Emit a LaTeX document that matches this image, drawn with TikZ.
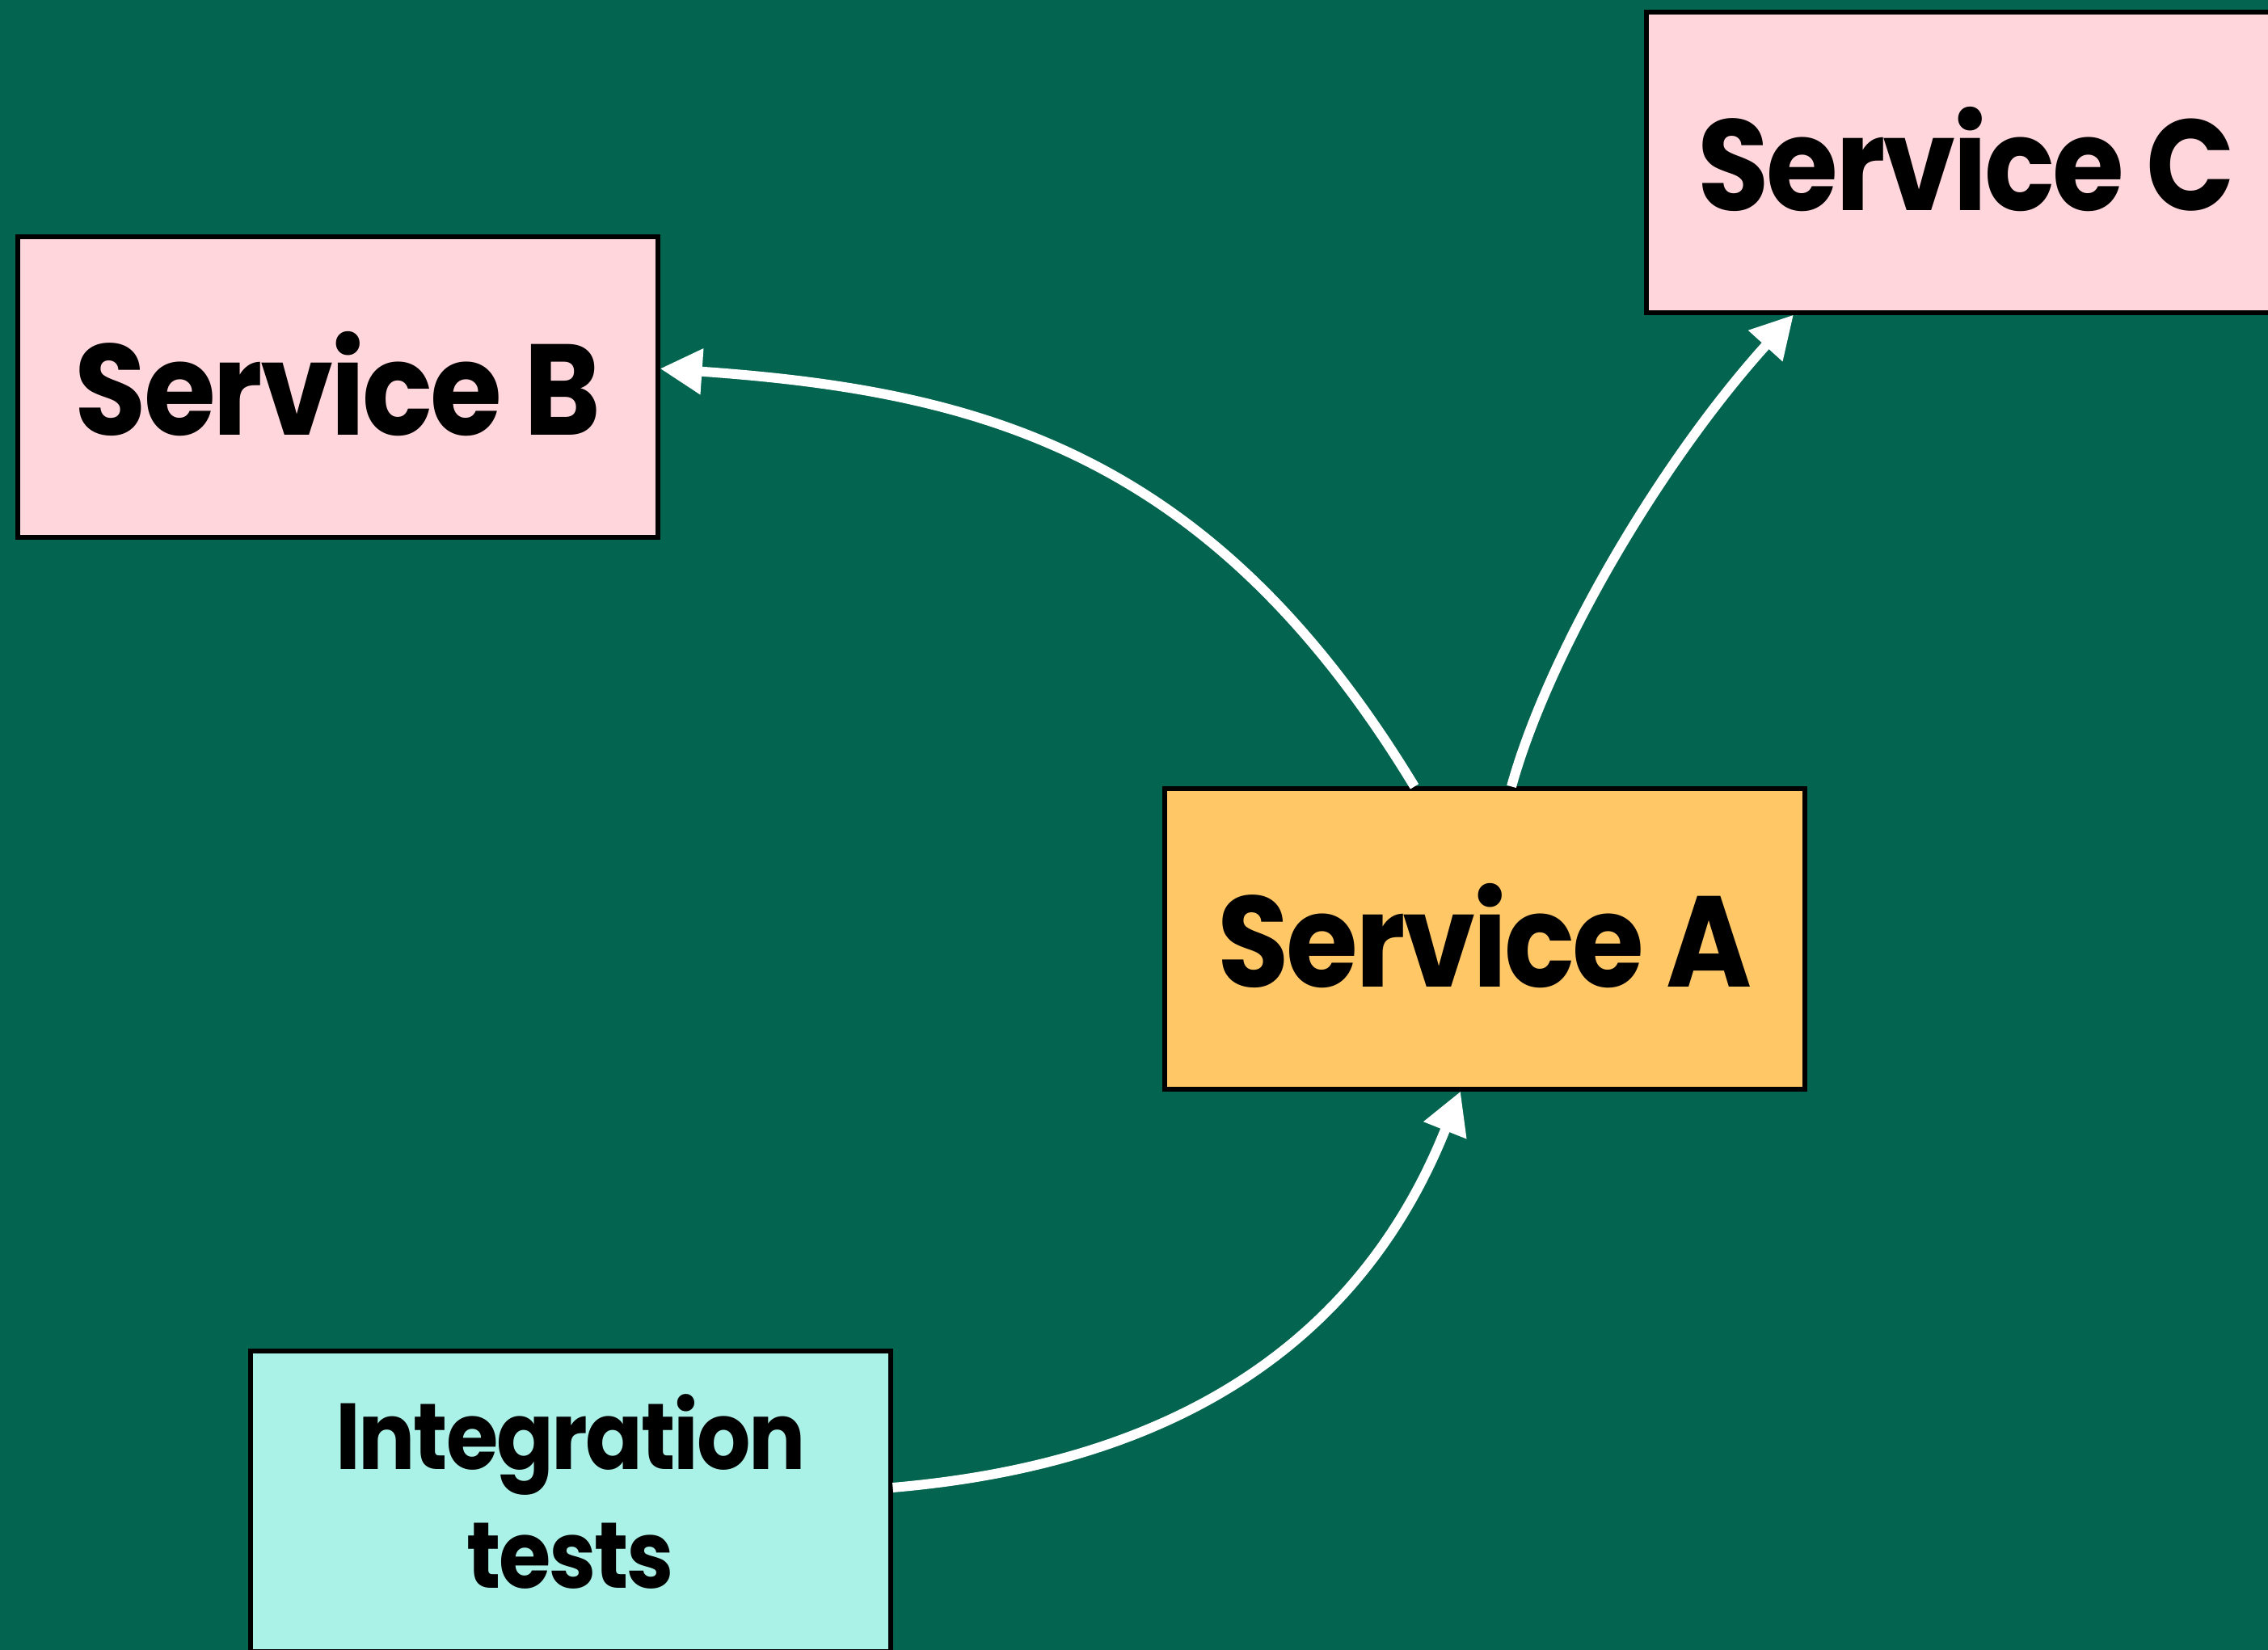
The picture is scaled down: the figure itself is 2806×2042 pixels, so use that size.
\documentclass[tikz,border=0pt]{standalone}
\usepackage{fontspec}
\setmainfont{Poppins}[FakeStretch=0.9, LetterSpace=-2]
\usetikzlibrary{arrows.meta}
\definecolor{bg}{HTML}{03644F}
\definecolor{pinkbox}{HTML}{FFD6DB}
\definecolor{orangebox}{HTML}{FFC766}
\definecolor{mintbox}{HTML}{AAF2E7}
\tikzset{
  box/.style={draw=black, line width=1.3pt, minimum width=198pt, minimum height=93pt, inner sep=0pt},
  svc/.style={box, text height=30pt, text depth=0pt, font=\fontsize{40}{40}\selectfont\bfseries},
  tst/.style={inner sep=0pt, align=center, font=\fontsize{29}{36.7}\selectfont\bfseries},
  conn/.style={draw=white, line width=3pt, -{Triangle[length=13pt,width=13.5pt]}}
}
\begin{document}
\begin{tikzpicture}[x=0.25pt,y=0.25pt]
\fill[bg] (0,0) rectangle (2806,2042);
\useasboundingbox (0,0) rectangle (2806,2042);
\node[svc, fill=pinkbox] (b) at (418,1563) {Service B};
\node[svc, fill=pinkbox] (c) at (2433,1841) {Service C};
\node[svc, fill=orangebox] (a) at (1837,880) {Service A};
\node[box, fill=mintbox] (it) at (706,184) {};
\node[tst] (itlabel) at ([yshift=3pt]it.center) {Integration\\tests};
\draw[conn] ([xshift=-21.75pt]a.north) .. controls +(-250,412) and +(400,-28) .. ([yshift=5.7pt]b.east);
\draw[conn] ([xshift=8.25pt]a.north) .. controls +(47,169) and +(-162,-179) .. ([xshift=-53.5pt]c.south);
\draw[conn] ([yshift=4.25pt]it.east) .. controls +(244,21) and +(-152,-381) .. ([xshift=-7.5pt]a.south);
\end{tikzpicture}
\end{document}
